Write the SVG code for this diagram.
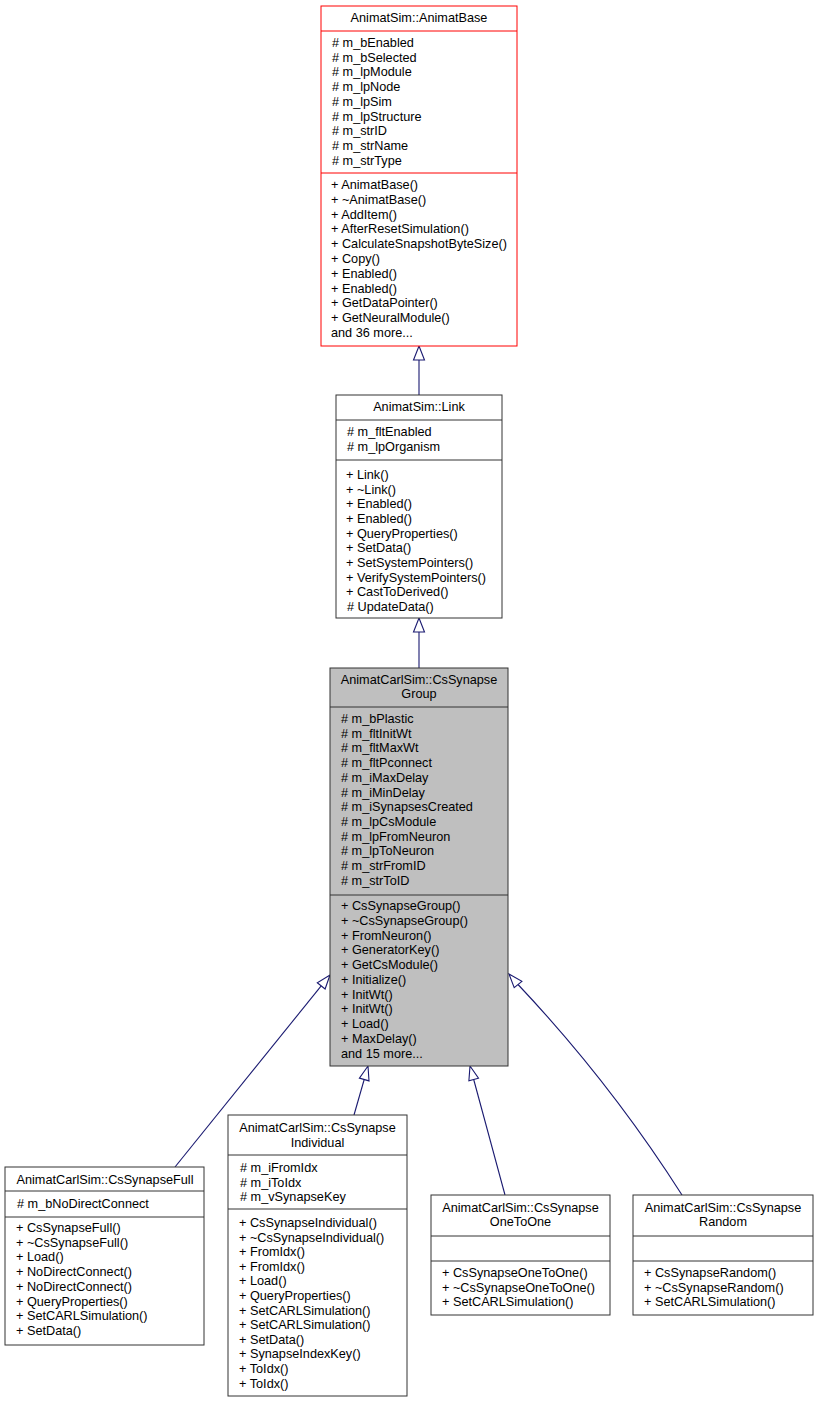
<svg xmlns="http://www.w3.org/2000/svg" width="818" height="1403" viewBox="0 0 818 1403">
<style>
text{font-family:"Liberation Sans",Arial,sans-serif;font-size:12.7px;fill:#000}
.c{text-anchor:middle}
.box{fill:#fff;stroke:#333;stroke-width:1}
.red{fill:#fff;stroke:#ff0000;stroke-width:1}
.grey{fill:#bfbfbf;stroke:#333;stroke-width:1}
.sep{stroke:#333;stroke-width:1}
.sepr{stroke:#ff0000;stroke-width:1}
.edge{fill:none;stroke:#191970;stroke-width:1.1}
.head{fill:#fff;stroke:#191970;stroke-width:1.1}
</style>
<rect width="818" height="1403" fill="#fff"/>
<g id="connectors">
<path class="edge" d="M419,395 L419,360"/>
<polygon class="head" points="419,346 424.5,360 413.5,360"/>
<path class="edge" d="M419,668 L419,632"/>
<polygon class="head" points="419,618 424.5,632 413.5,632"/>
<path class="edge" d="M175,1167 L321.2,985.9"/>
<polygon class="head" points="330,975 325.1,989 317.3,982.8"/>
<path class="edge" d="M354,1115 L364.2,1079.5"/>
<polygon class="head" points="368,1066 369,1080.9 359.4,1078.1"/>
<path class="edge" d="M505,1195 L473.7,1079.5"/>
<polygon class="head" points="470,1066 478.5,1078.2 468.9,1080.8"/>
<path class="edge" d="M682,1195 Q610,1082 518,984.5"/>
<polygon class="head" points="509,974 521.9,981.3 514.2,987.7"/>
</g>
<g id="node_AnimatBase">
<rect class="red" x="321" y="6" width="196" height="340"/>
<line class="sepr" x1="321" y1="31" x2="517" y2="31"/>
<line class="sepr" x1="321" y1="173" x2="517" y2="173"/>
<text class="c" x="419" y="22">AnimatSim::AnimatBase</text>
<text x="332" y="47"># m_bEnabled</text>
<text x="332" y="61.7"># m_bSelected</text>
<text x="332" y="76.4"># m_lpModule</text>
<text x="332" y="91.1"># m_lpNode</text>
<text x="332" y="105.8"># m_lpSim</text>
<text x="332" y="120.5"># m_lpStructure</text>
<text x="332" y="135.2"># m_strID</text>
<text x="332" y="149.9"># m_strName</text>
<text x="332" y="164.6"># m_strType</text>
<text x="331" y="189">+ AnimatBase()</text>
<text x="331" y="203.8">+ ~AnimatBase()</text>
<text x="331" y="218.6">+ AddItem()</text>
<text x="331" y="233.4">+ AfterResetSimulation()</text>
<text x="331" y="248.2">+ CalculateSnapshotByteSize()</text>
<text x="331" y="263">+ Copy()</text>
<text x="331" y="277.8">+ Enabled()</text>
<text x="331" y="292.6">+ Enabled()</text>
<text x="331" y="307.4">+ GetDataPointer()</text>
<text x="331" y="322.2">+ GetNeuralModule()</text>
<text x="331" y="337">and 36 more...</text>
</g>
<g id="node_Link">
<rect class="box" x="336" y="395" width="166" height="223"/>
<line class="sep" x1="336" y1="420" x2="502" y2="420"/>
<line class="sep" x1="336" y1="460" x2="502" y2="460"/>
<text class="c" x="419" y="411">AnimatSim::Link</text>
<text x="347" y="436"># m_fltEnabled</text>
<text x="347" y="451"># m_lpOrganism</text>
<text x="346" y="479">+ Link()</text>
<text x="346" y="493.6">+ ~Link()</text>
<text x="346" y="508.3">+ Enabled()</text>
<text x="346" y="523">+ Enabled()</text>
<text x="346" y="537.6">+ QueryProperties()</text>
<text x="346" y="552.3">+ SetData()</text>
<text x="346" y="567">+ SetSystemPointers()</text>
<text x="346" y="581.6">+ VerifySystemPointers()</text>
<text x="346" y="596.2">+ CastToDerived()</text>
<text x="347" y="611"># UpdateData()</text>
</g>
<g id="node_CsSynapseGroup">
<rect class="grey" x="330" y="668" width="178" height="398"/>
<line class="sep" x1="330" y1="707" x2="508" y2="707"/>
<line class="sep" x1="330" y1="895" x2="508" y2="895"/>
<text class="c" x="419" y="683.5">AnimatCarlSim::CsSynapse</text>
<text class="c" x="419" y="698">Group</text>
<text x="341" y="723"># m_bPlastic</text>
<text x="341" y="737.7"># m_fltInitWt</text>
<text x="341" y="752.4"># m_fltMaxWt</text>
<text x="341" y="767.1"># m_fltPconnect</text>
<text x="341" y="781.8"># m_iMaxDelay</text>
<text x="341" y="796.5"># m_iMinDelay</text>
<text x="341" y="811.2"># m_iSynapsesCreated</text>
<text x="341" y="825.9"># m_lpCsModule</text>
<text x="341" y="840.6"># m_lpFromNeuron</text>
<text x="341" y="855.3"># m_lpToNeuron</text>
<text x="341" y="870"># m_strFromID</text>
<text x="341" y="884.7"># m_strToID</text>
<text x="341" y="910">+ CsSynapseGroup()</text>
<text x="341" y="924.75">+ ~CsSynapseGroup()</text>
<text x="341" y="939.5">+ FromNeuron()</text>
<text x="341" y="954.25">+ GeneratorKey()</text>
<text x="341" y="969">+ GetCsModule()</text>
<text x="341" y="983.75">+ Initialize()</text>
<text x="341" y="998.5">+ InitWt()</text>
<text x="341" y="1013.25">+ InitWt()</text>
<text x="341" y="1028">+ Load()</text>
<text x="341" y="1042.75">+ MaxDelay()</text>
<text x="341" y="1057.5">and 15 more...</text>
</g>
<g id="node_CsSynapseFull">
<rect class="box" x="5" y="1167" width="199" height="178"/>
<line class="sep" x1="5" y1="1191" x2="204" y2="1191"/>
<line class="sep" x1="5" y1="1217" x2="204" y2="1217"/>
<text class="c" x="105" y="1184">AnimatCarlSim::CsSynapseFull</text>
<text x="17" y="1208"># m_bNoDirectConnect</text>
<text x="16" y="1232">+ CsSynapseFull()</text>
<text x="16" y="1246.7">+ ~CsSynapseFull()</text>
<text x="16" y="1261.4">+ Load()</text>
<text x="16" y="1276.1">+ NoDirectConnect()</text>
<text x="16" y="1290.8">+ NoDirectConnect()</text>
<text x="16" y="1305.5">+ QueryProperties()</text>
<text x="16" y="1320.2">+ SetCARLSimulation()</text>
<text x="16" y="1334.9">+ SetData()</text>
</g>
<g id="node_CsSynapseIndividual">
<rect class="box" x="228" y="1115" width="179" height="281"/>
<line class="sep" x1="228" y1="1155" x2="407" y2="1155"/>
<line class="sep" x1="228" y1="1209" x2="407" y2="1209"/>
<text class="c" x="317.5" y="1132">AnimatCarlSim::CsSynapse</text>
<text class="c" x="317.5" y="1146.5">Individual</text>
<text x="240" y="1172"># m_iFromIdx</text>
<text x="240" y="1186.5"># m_iToIdx</text>
<text x="240" y="1201"># m_vSynapseKey</text>
<text x="239" y="1227">+ CsSynapseIndividual()</text>
<text x="239" y="1241.6">+ ~CsSynapseIndividual()</text>
<text x="239" y="1256.2">+ FromIdx()</text>
<text x="239" y="1270.8">+ FromIdx()</text>
<text x="239" y="1285.4">+ Load()</text>
<text x="239" y="1300">+ QueryProperties()</text>
<text x="239" y="1314.6">+ SetCARLSimulation()</text>
<text x="239" y="1329.2">+ SetCARLSimulation()</text>
<text x="239" y="1343.8">+ SetData()</text>
<text x="239" y="1358.4">+ SynapseIndexKey()</text>
<text x="239" y="1373">+ ToIdx()</text>
<text x="239" y="1387.6">+ ToIdx()</text>
</g>
<g id="node_CsSynapseOneToOne">
<rect class="box" x="431" y="1195" width="179" height="120"/>
<line class="sep" x1="431" y1="1236" x2="610" y2="1236"/>
<line class="sep" x1="431" y1="1261" x2="610" y2="1261"/>
<text class="c" x="520.5" y="1211.5">AnimatCarlSim::CsSynapse</text>
<text class="c" x="520.5" y="1226">OneToOne</text>
<text x="442" y="1277">+ CsSynapseOneToOne()</text>
<text x="442" y="1291.7">+ ~CsSynapseOneToOne()</text>
<text x="442" y="1306.4">+ SetCARLSimulation()</text>
</g>
<g id="node_CsSynapseRandom">
<rect class="box" x="633" y="1195" width="180" height="120"/>
<line class="sep" x1="633" y1="1236" x2="813" y2="1236"/>
<line class="sep" x1="633" y1="1261" x2="813" y2="1261"/>
<text class="c" x="723" y="1211.5">AnimatCarlSim::CsSynapse</text>
<text class="c" x="723" y="1226">Random</text>
<text x="644" y="1277">+ CsSynapseRandom()</text>
<text x="644" y="1291.7">+ ~CsSynapseRandom()</text>
<text x="644" y="1306.4">+ SetCARLSimulation()</text>
</g>
</svg>
